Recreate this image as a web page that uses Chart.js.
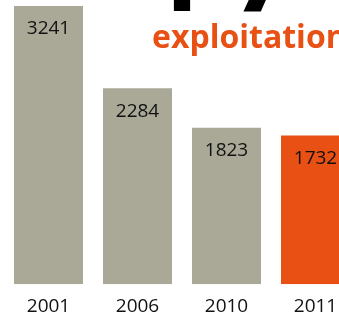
<!DOCTYPE html>
<html>
<head>
<meta charset="utf-8">
<script src="https://cdn.jsdelivr.net/npm/chart.js@4.4.1/dist/chart.umd.min.js"></script>
<style>
html,body{margin:0;padding:0;background:#fff;overflow:hidden;}
#wrap{width:339px;height:315px;position:relative;overflow:hidden;}
canvas{position:absolute;left:0;top:0;}
</style>
</head>
<body>
<div id="wrap"><canvas id="c" width="364" height="329"></canvas></div>
<script>
const categories = ["2001", "2006", "2010", "2011"];
const values = [3241, 2284, 1823, 1732];
const barColors = ["#aaa998", "#aaa998", "#aaa998", "#e85014"];
const headline = "-47%";
const subtitle = "exploitation";

const overlay = {
  id: 'overlay',
  afterDatasetsDraw(chart) {
    const ctx = chart.ctx;
    const meta = chart.getDatasetMeta(0);
    ctx.save();
    ctx.fillStyle = '#111';
    ctx.font = '19px "Open Sans"';
    ctx.textAlign = 'center';
    ctx.textBaseline = 'middle';
    meta.data.forEach((bar, i) => {
      ctx.fillText(String(values[i]), bar.x, bar.y + 23);
    });
    ctx.restore();
  },
  afterDraw(chart) {
    const ctx = chart.ctx;
    ctx.save();
    ctx.fillStyle = '#000';
    ctx.font = 'bold 110px "Open Sans"';
    ctx.letterSpacing = '30px';
    ctx.textAlign = 'left';
    ctx.textBaseline = 'alphabetic';
    ctx.fillText(headline, 73, 11);
    ctx.letterSpacing = '0px';
    ctx.fillStyle = '#e85014';
    ctx.font = 'bold 32px "Open Sans"';
    ctx.fillText(subtitle, 152, 48);
    ctx.restore();
  }
};

new Chart(document.getElementById('c'), {
  type: 'bar',
  data: {
    labels: categories,
    datasets: [{
      data: values,
      backgroundColor: barColors,
      borderWidth: 0,
      barPercentage: 1,
      categoryPercentage: 69/89
    }]
  },
  options: {
    responsive: false,
    animation: false,
    devicePixelRatio: 1,
    layout: { padding: { left: 4, right: 4, top: 6, bottom: 0 } },
    plugins: { legend: { display: false }, tooltip: { enabled: false } },
    scales: {
      x: {
        grid: { display: false, drawTicks: false },
        border: { display: false },
        ticks: { color: '#111', font: { family: 'Open Sans', size: 19 }, padding: 11 }
      },
      y: {
        display: false,
        min: 0,
        max: Math.max(...values)
      }
    }
  },
  plugins: [overlay]
});
</script>
</body>
</html>
